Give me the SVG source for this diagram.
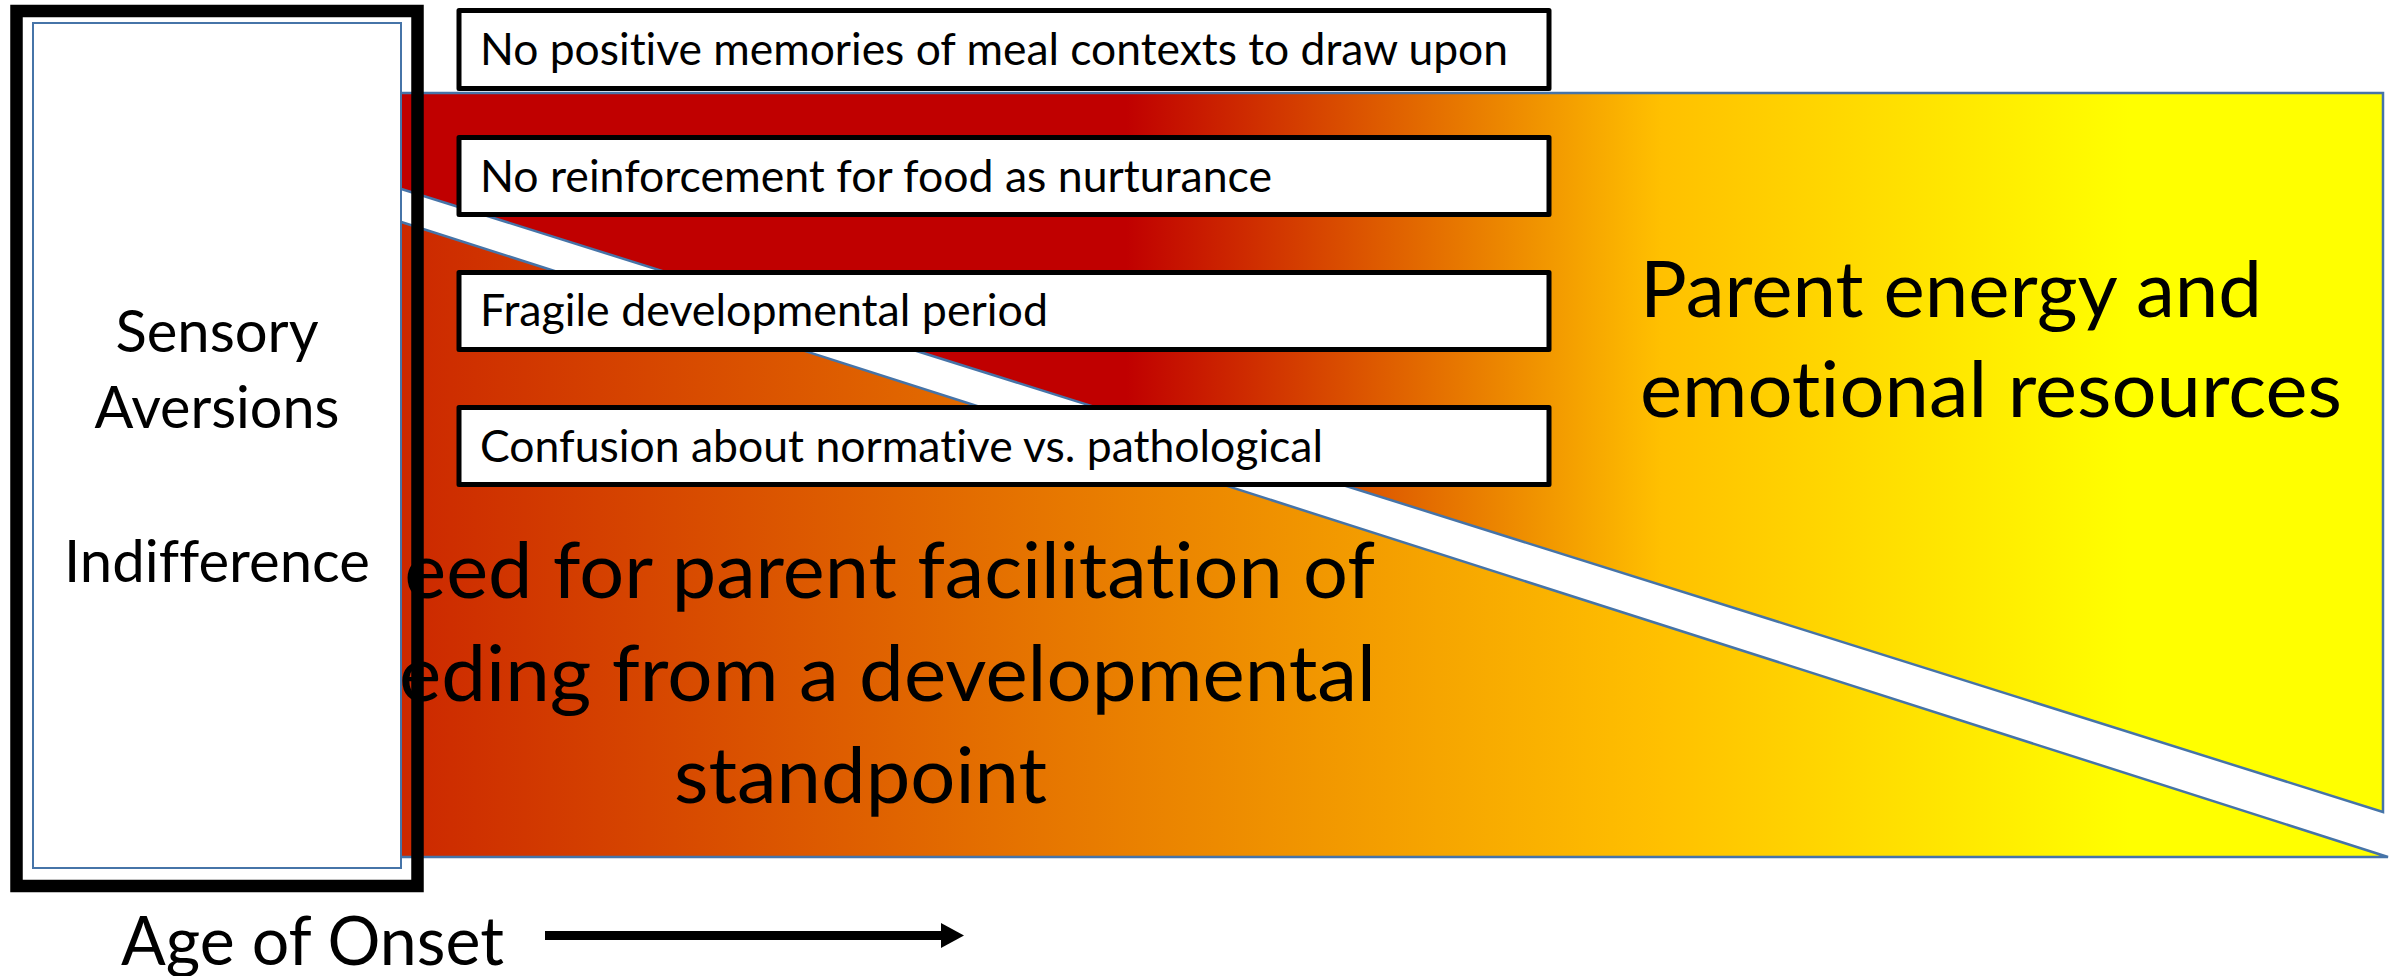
<svg xmlns="http://www.w3.org/2000/svg" width="2403" height="976" viewBox="0 0 2403 976">
  <style>
    .region { stroke: #4674A8; stroke-width: 2.5; stroke-linejoin: miter; }
    .lbl { font-family: Lato, "Liberation Sans", sans-serif; fill: #000000; font-variant-ligatures: none; font-feature-settings: "liga" 0, "clig" 0; }
    .box { fill: #FFFFFF; stroke: #000000; stroke-width: 5; stroke-linejoin: round; }
    .boxtxt { font-size: 44px; }
    .big { font-size: 77px; }
    .side { font-size: 58px; text-anchor: middle; }
  </style>
  <defs>
    <linearGradient id="gradUpper" gradientUnits="userSpaceOnUse" x1="401" y1="0" x2="2388" y2="0">
      <stop offset="0" stop-color="#C00000"/>
      <stop offset="0.365" stop-color="#C00000"/>
      <stop offset="0.634" stop-color="#FFC000"/>
      <stop offset="0.87" stop-color="#FFFF00"/>
      <stop offset="1" stop-color="#FFFF00"/>
    </linearGradient>
    <linearGradient id="gradLower" gradientUnits="userSpaceOnUse" x1="401" y1="0" x2="2388" y2="0">
      <stop offset="0" stop-color="#CC2800"/>
      <stop offset="0.634" stop-color="#FFC000"/>
      <stop offset="0.87" stop-color="#FFFF00"/>
      <stop offset="1" stop-color="#FFFF00"/>
    </linearGradient>
  </defs>
  <rect x="0" y="0" width="2403" height="976" fill="#FFFFFF"/>

  <g id="parent-resources">
    <polygon class="region" fill="url(#gradUpper)" points="395,93 2383,93 2383,812 395,187"/>
    <text class="lbl big" x="1640" y="317" textLength="622" lengthAdjust="spacingAndGlyphs">Parent energy and</text>
    <text class="lbl big" x="1640" y="417" textLength="702" lengthAdjust="spacingAndGlyphs">emotional resources</text>
  </g>

  <g id="parent-facilitation">
    <polygon class="region" fill="url(#gradLower)" points="395,220 2388,857 395,857"/>
    <text class="lbl big" x="345" y="598" textLength="1030" lengthAdjust="spacingAndGlyphs">Need for parent facilitation of</text>
    <text class="lbl big" x="330" y="701" textLength="1046" lengthAdjust="spacingAndGlyphs">feeding from a developmental</text>
    <text class="lbl big" x="674" y="803" textLength="373" lengthAdjust="spacingAndGlyphs">standpoint</text>
  </g>

  <g id="onset-panel">
    <rect x="33" y="23" width="368" height="845" fill="#FFFFFF" stroke="#4674A8" stroke-width="2"/>
    <rect x="16.5" y="11" width="401" height="875" fill="none" stroke="#000000" stroke-width="12.5"/>
    <text class="lbl side" x="217" y="352" textLength="203" lengthAdjust="spacingAndGlyphs">Sensory</text>
    <text class="lbl side" x="217" y="428" textLength="245" lengthAdjust="spacingAndGlyphs">Aversions</text>
    <text class="lbl side" x="217" y="582" textLength="306" lengthAdjust="spacingAndGlyphs">Indifference</text>
  </g>

  <g id="box-memories">
    <rect class="box" x="459" y="10.5" width="1090" height="78"/>
    <text class="lbl boxtxt" x="480" y="65" textLength="1028" lengthAdjust="spacingAndGlyphs">No positive memories of meal contexts to draw upon</text>
  </g>
  <g id="box-reinforcement">
    <rect class="box" x="459" y="137.5" width="1090" height="77"/>
    <text class="lbl boxtxt" x="480" y="192" textLength="792" lengthAdjust="spacingAndGlyphs">No reinforcement for food as nurturance</text>
  </g>
  <g id="box-fragile">
    <rect class="box" x="459" y="272.5" width="1090" height="77"/>
    <text class="lbl boxtxt" x="480" y="326" textLength="568" lengthAdjust="spacingAndGlyphs">Fragile developmental period</text>
  </g>
  <g id="box-confusion">
    <rect class="box" x="459" y="407.5" width="1090" height="77"/>
    <text class="lbl boxtxt" x="480" y="462" textLength="843" lengthAdjust="spacingAndGlyphs">Confusion about normative vs. pathological</text>
  </g>

  <g id="axis-label">
    <text class="lbl" font-size="67" x="121" y="965" textLength="383" lengthAdjust="spacingAndGlyphs">Age of Onset</text>
  </g>

  <g id="connectors">
    <line x1="545" y1="935.5" x2="943" y2="935.5" stroke="#000000" stroke-width="9"/>
    <polygon points="941,923 964,935.5 941,948" fill="#000000"/>
  </g>
</svg>
